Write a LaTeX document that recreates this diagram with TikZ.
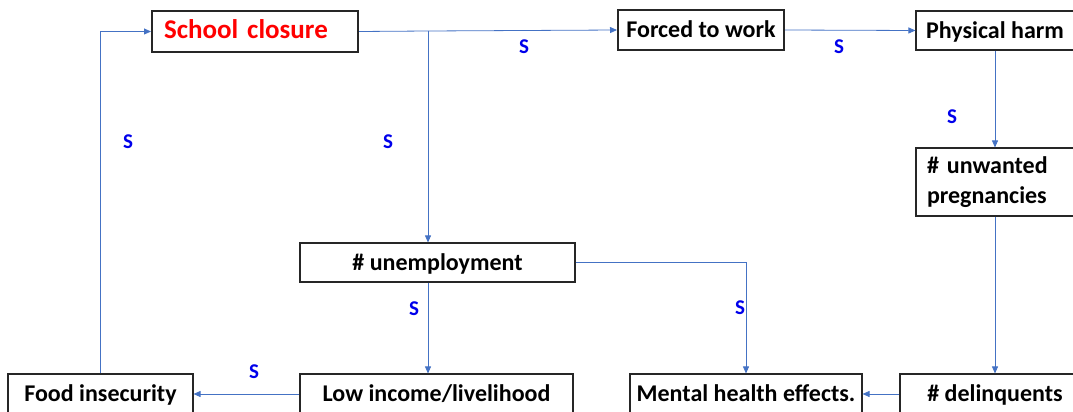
\documentclass[tikz,border=0pt]{standalone}
\usepackage{fontspec}
\setmainfont{Carlito}
\usetikzlibrary{arrows.meta}

\definecolor{linkblue}{RGB}{68,114,196}
\definecolor{signblue}{RGB}{0,0,235}
\definecolor{causered}{RGB}{255,0,0}

\tikzset{
  box/.style={rectangle, draw=black!85, line width=1.1pt, inner sep=0pt,
    font=\fontsize{24}{30}\selectfont\bfseries},
  onebox/.style={box, text height=18.5pt, text depth=3.5pt},
  thickbox/.style={onebox, line width=2pt},
  link/.style={draw=linkblue, line width=0.8pt},
  arrowlink/.style={link, -{Triangle[length=7pt,width=6pt]}},
  slabel/.style={text=signblue, font=\fontsize{21}{24}\selectfont\bfseries}
}

\begin{document}
\begin{tikzpicture}[x=1pt,y=-1pt]
   \useasboundingbox (0,0) rectangle (1073,412);
   % top row
   \node[thickbox, minimum width=206pt, minimum height=41pt, text width=182pt,
         align=left, text=causered, font=\fontsize{27}{30}\selectfont\bfseries]
         (school) at (255,31.5) {School closure};
   \node[thickbox, minimum width=166pt, minimum height=40pt] (forced) at (701,30) {Forced to work};
   \node[onebox, minimum width=158pt, minimum height=39pt] (physical) at (995,30.5) {Physical harm};
   \node[box, minimum width=158pt, minimum height=68pt, text width=136pt,
         align=left] (unwanted) at (995,182) {\# unwanted\\pregnancies};
   % middle
   \node[onebox, minimum width=275pt, minimum height=39pt] (unemp) at (437.5,262.5) {\# unemployment};
   % bottom row
   \node[onebox, minimum width=185pt, minimum height=40pt] (food) at (100.5,394) {Food insecurity};
   \node[onebox, minimum width=273pt, minimum height=40pt] (lowinc) at (436.5,394) {Low income/livelihood};
   \node[onebox, minimum width=232pt, minimum height=40pt] (mental) at (746,394) {Mental health effects.};
   \node[onebox, minimum width=190pt, minimum height=40pt] (delinq) at (995,394) {\# delinquents};

   \coordinate (split) at (428,31);
   \path[link] (school.east) -- (split);
   \path[arrowlink] (split) -- (forced.west);
   \path[arrowlink] (split) -- (split |- unemp.north);
   \path[arrowlink] (forced.east) -- (physical.west);
   \path[arrowlink] (physical.south) -- (unwanted.north);
   \path[arrowlink] (unwanted.south) -- (delinq.north);
   \path[arrowlink] (delinq.west) -- (mental.east);
   \path[arrowlink] (unemp.east) -| (mental.north);
   \path[arrowlink] (split |- unemp.south) -- (split |- lowinc.north);
   \path[arrowlink] (lowinc.west) -- (food.east);
   \path[arrowlink] (food.north) |- (school.west);

   % polarity labels
   \node[slabel] (s1) at (524,47) {S};
   \node[slabel] (s2) at (388,142) {S};
   \node[slabel] (s3) at (839,47) {S};
   \node[slabel] (s4) at (952,117) {S};
   \node[slabel] (s5) at (128,142) {S};
   \node[slabel] (s6) at (414,309) {S};
   \node[slabel] (s7) at (740,308) {S};
   \node[slabel] (s8) at (254,372) {S};
\end{tikzpicture}
\end{document}
